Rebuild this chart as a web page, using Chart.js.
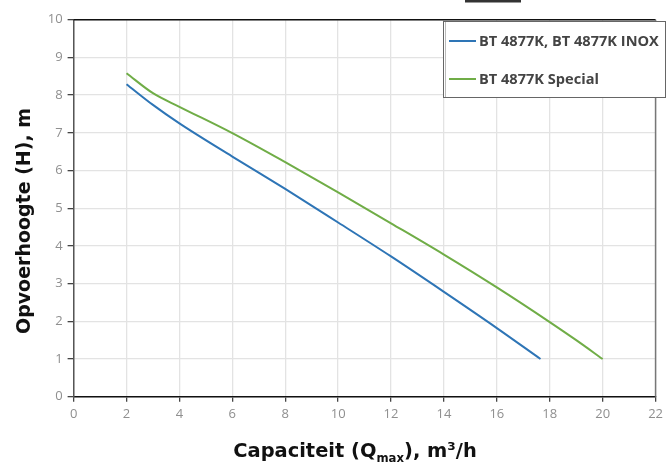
<!DOCTYPE html>
<html>
<head>
<meta charset="utf-8">
<script src="https://cdn.jsdelivr.net/npm/chart.js@4.4.0/dist/chart.umd.min.js"></script>
<style>
body { margin: 0; background: #fff; }
</style>
</head>
<body>
<canvas id="myChart" width="668" height="464"></canvas>
<script>
// pump curves (flow in m3/h, head in m)
const flowInox = [2, 3, 4, 6, 8, 10, 12, 14, 16, 17.65];
const headInox = [8.29, 7.74, 7.25, 6.37, 5.51, 4.62, 3.72, 2.78, 1.82, 1.0];
const flowSpecial = [2, 3, 4, 6, 8, 10, 12, 14, 16, 18, 19, 20];
const headSpecial = [8.58, 8.05, 7.69, 6.99, 6.22, 5.42, 4.6, 3.77, 2.9, 1.98, 1.5, 1.0];
const seriesNames = ['BT 4877K, BT 4877K INOX', 'BT 4877K Special'];
const seriesColors = ['#2e75b6', '#70ad47'];
const yTitle = 'Opvoerhoogte (H), m';
const xTitleParts = ['Capaciteit (Q', 'max', '), m³/h'];

function toPoints(xs, ys) {
    return xs.map((x, i) => ({ x: x, y: ys[i] }));
}

// pick a font size so the text spans the wanted width
function fitSize(ctx, text, family, target) {
    ctx.font = 'bold 20px ' + family;
    return 20 * target / ctx.measureText(text).width;
}

const frameAndTitles = {
    id: 'frameAndTitles',
    afterDatasetsDraw(chart) {
        const ctx = chart.ctx;
        const a = chart.chartArea;
        ctx.save();
        // top and right edges of the plot frame
        ctx.lineWidth = 1.5;
        ctx.strokeStyle = '#111';
        ctx.beginPath();
        ctx.moveTo(a.left, a.top);
        ctx.lineTo(a.right, a.top);
        ctx.stroke();
        ctx.strokeStyle = '#777';
        ctx.beginPath();
        ctx.moveTo(a.right, a.top);
        ctx.lineTo(a.right, a.bottom);
        ctx.stroke();
        ctx.restore();
    },
    afterDraw(chart) {
        const ctx = chart.ctx;
        ctx.save();

        // cropped dark shape at the top edge
        ctx.fillStyle = '#333';
        ctx.fillRect(465, 0, 56, 2.5);

        // legend box
        ctx.fillStyle = '#fff';
        ctx.fillRect(443, 21, 223, 76);
        ctx.strokeStyle = '#666';
        ctx.lineWidth = 1;
        ctx.strokeRect(443.5, 21.5, 222, 76);
        ctx.strokeStyle = '#bbb';
        ctx.beginPath();
        ctx.moveTo(445.5, 22);
        ctx.lineTo(445.5, 97);
        ctx.stroke();

        const rows = [41, 79];
        const legSize = fitSize(ctx, seriesNames[0], '"Open Sans"', 180);
        ctx.font = 'bold ' + legSize.toFixed(2) + 'px "Open Sans"';
        ctx.textBaseline = 'middle';
        ctx.textAlign = 'left';
        rows.forEach((y, i) => {
            ctx.strokeStyle = seriesColors[i];
            ctx.lineWidth = 2;
            ctx.beginPath();
            ctx.moveTo(449, y);
            ctx.lineTo(476, y);
            ctx.stroke();
            ctx.fillStyle = '#444';
            ctx.fillText(seriesNames[i], 479, y + 1);
        });

        // y axis title
        const ySize = fitSize(ctx, yTitle, '"DejaVu Sans"', 226);
        ctx.save();
        ctx.translate(25, 221);
        ctx.rotate(-Math.PI / 2);
        ctx.font = 'bold ' + ySize.toFixed(2) + 'px "DejaVu Sans"';
        ctx.fillStyle = '#111';
        ctx.textAlign = 'center';
        ctx.textBaseline = 'middle';
        ctx.fillText(yTitle, 0, 0);
        ctx.restore();

        // x axis title with subscript
        const xSize = fitSize(ctx, xTitleParts.join(''), '"DejaVu Sans"', 262);
        const big = 'bold ' + xSize.toFixed(2) + 'px "DejaVu Sans"';
        const small = 'bold ' + (xSize * 0.6).toFixed(2) + 'px "DejaVu Sans"';
        ctx.fillStyle = '#111';
        ctx.textAlign = 'left';
        ctx.textBaseline = 'alphabetic';
        ctx.font = big;
        const w0 = ctx.measureText(xTitleParts[0]).width;
        const w2 = ctx.measureText(xTitleParts[2]).width;
        ctx.font = small;
        const w1 = ctx.measureText(xTitleParts[1]).width;
        let x = 355 - (w0 + w1 + w2) / 2;
        const base = 457;
        ctx.font = big;
        ctx.fillText(xTitleParts[0], x, base);
        x += w0;
        ctx.font = small;
        ctx.fillText(xTitleParts[1], x, base + 5);
        x += w1;
        ctx.font = big;
        ctx.fillText(xTitleParts[2], x, base);

        ctx.restore();
    }
};

function chartIt() {
    const ctx = document.getElementById('myChart').getContext('2d');
    const myChart = new Chart(ctx, {
        type: 'line',
        data: {
            datasets: [{
                label: seriesNames[0],
                data: toPoints(flowInox, headInox),
                borderColor: seriesColors[0],
                backgroundColor: seriesColors[0],
                borderWidth: 2,
                pointRadius: 0,
                cubicInterpolationMode: 'monotone',
            }, {
                label: seriesNames[1],
                data: toPoints(flowSpecial, headSpecial),
                borderColor: seriesColors[1],
                backgroundColor: seriesColors[1],
                borderWidth: 2,
                pointRadius: 0,
                cubicInterpolationMode: 'monotone',
            }]
        },
        options: {
            responsive: false,
            animation: false,
            layout: { padding: { left: 0, right: 7.7, top: 19.7, bottom: 0 } },
            plugins: {
                legend: { display: false },
                tooltip: { enabled: false },
            },
            scales: {
                x: {
                    type: 'linear',
                    min: 0,
                    max: 22,
                    afterFit: s => { s.height = 67.3; },
                    ticks: {
                        stepSize: 2,
                        color: '#8f8f8f',
                        padding: 5,
                        font: { family: 'Open Sans', size: 13 },
                        maxRotation: 0,
                    },
                    grid: { color: '#e3e3e3', lineWidth: 1.3, tickLength: 5, tickColor: '#444' },
                    border: { color: '#111', width: 1.5 },
                },
                y: {
                    min: 0,
                    max: 10,
                    afterFit: s => { s.width = 73.6; },
                    ticks: {
                        stepSize: 1,
                        color: '#8f8f8f',
                        padding: 5,
                        font: { family: 'Open Sans', size: 13 },
                    },
                    grid: { color: '#e3e3e3', lineWidth: 1.3, tickLength: 6, tickColor: '#444' },
                    border: { color: '#555', width: 1.5 },
                }
            }
        },
        plugins: [frameAndTitles]
    });
}

doWork();

async function doWork() {
    try {
        await document.fonts.load('bold 18px "Open Sans"');
        await document.fonts.load('13px "Open Sans"');
        await document.fonts.load('bold 16px "DejaVu Sans"');
    } catch (e) {
        console.log(e);
    }
    chartIt();
}
</script>
</body>
</html>
